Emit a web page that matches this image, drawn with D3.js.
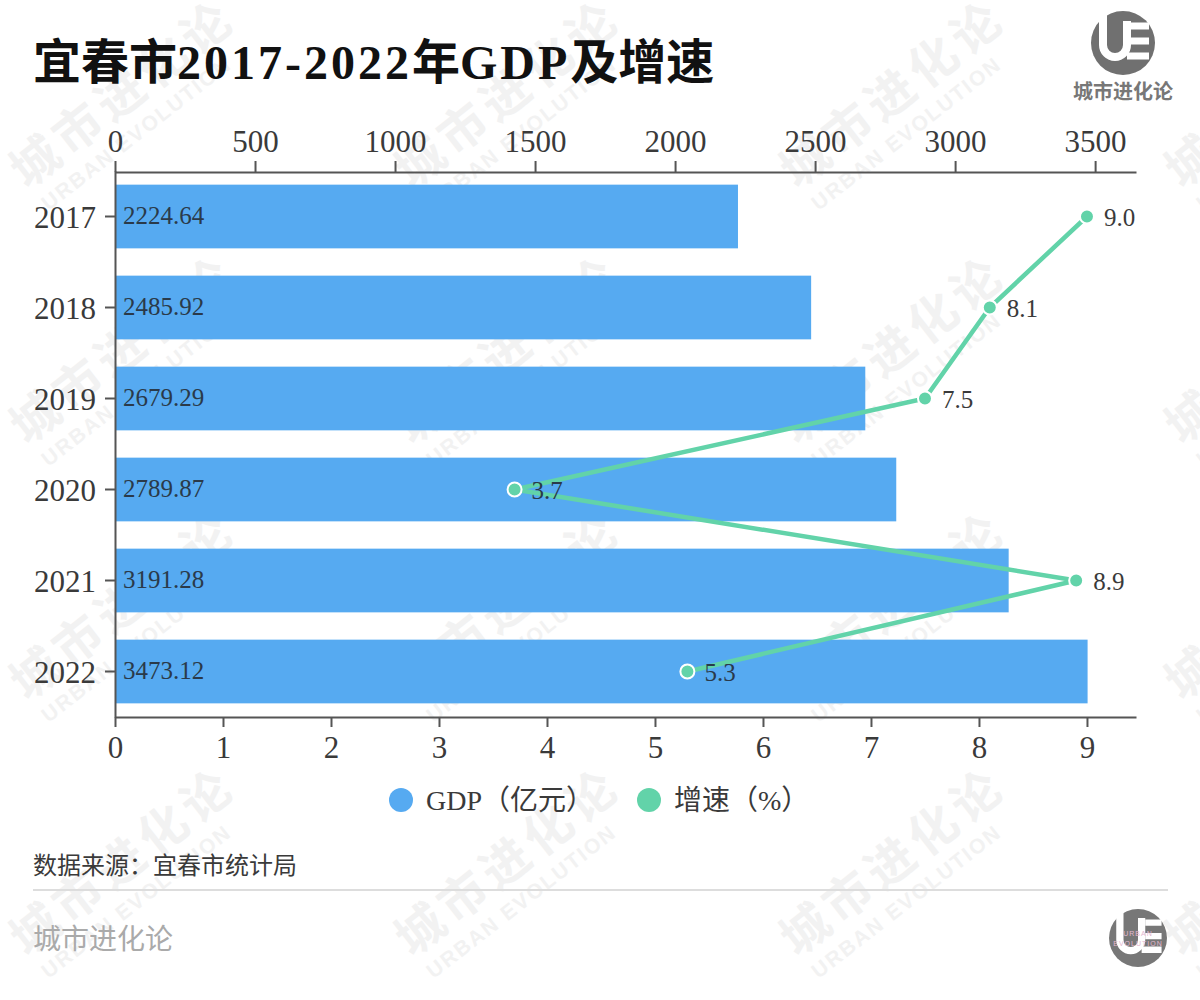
<!DOCTYPE html>
<html>
<head>
<title>宜春市2017-2022年GDP及增速</title>
<script src="https://d3js.org/d3.v7.min.js"></script>
<style>
body { margin: 0; background: #fff; }
svg { display: block; font-family: 'Liberation Serif', 'Noto Sans CJK SC', serif; }
.axis text { font-family: 'Liberation Serif', serif; font-size: 31px; fill: #3a3a3a; }
.axis path, .axis line { stroke: #555; stroke-width: 2; }
</style>
</head>
<body>
<svg id="chart" width="1200" height="1000"></svg>
<script>
  var data = [
    {year: "2017", gdp: 2224.64, rate: 9.0},
    {year: "2018", gdp: 2485.92, rate: 8.1},
    {year: "2019", gdp: 2679.29, rate: 7.5},
    {year: "2020", gdp: 2789.87, rate: 3.7},
    {year: "2021", gdp: 3191.28, rate: 8.9},
    {year: "2022", gdp: 3473.12, rate: 5.3}
  ];
  var blue = "#56aaf1", green = "#62d3a9";
  var cjk = "'Noto Sans CJK SC', sans-serif";

  var svg = d3.select("#chart");
  svg.append("rect").attr("width", 1200).attr("height", 1000).attr("fill", "#fff");

  // watermark grid
  var mark = svg.append("g");
  [0, 1, 2, 3].forEach(function (col) {
    [0, 1, 2, 3].forEach(function (row) {
      var g = mark.append("g")
        .attr("transform", "translate(" + (27 + col * 385) + "," + (190 + row * 256) + ") rotate(-38)");
      g.append("text").attr("font-family", cjk).attr("font-weight", 700)
        .attr("font-size", 48).attr("letter-spacing", 6).attr("fill", "#f2f2f2").text("城市进化论");
      g.append("text").attr("x", 4).attr("y", 30).attr("font-family", "'Liberation Sans', sans-serif").attr("font-weight", 700)
        .attr("font-size", 21).attr("letter-spacing", 2).attr("fill", "#f2f2f2").text("URBAN EVOLUTION");
    });
  });

  var x = d3.scaleLinear().domain([0, 3646]).range([115, 1136]);
  var x2 = d3.scaleLinear().domain([0, 9.454]).range([115, 1136]);
  var y = d3.scaleBand().domain(data.map(function (d) { return d.year; })).range([171, 717])
    .paddingInner(0.3).paddingOuter(0.15);

  var title = svg.append("text").attr("x", 33).attr("y", 79).attr("font-size", 48).attr("font-weight", 700)
    .attr("fill", "#111");
  title.append("tspan").text("宜春市");
  title.append("tspan").attr("letter-spacing", 3).text("2017-2022");
  title.append("tspan").text("年");
  title.append("tspan").attr("letter-spacing", 3).text("GDP");
  title.append("tspan").text("及增速");

  // bars
  svg.selectAll(".bar").data(data).enter().append("rect")
    .attr("class", "bar")
    .attr("x", x(0))
    .attr("y", function (d) { return y(d.year); })
    .attr("width", function (d) { return x(d.gdp) - x(0); })
    .attr("height", y.bandwidth())
    .attr("fill", blue);

  svg.selectAll(".barLabel").data(data).enter().append("text")
    .attr("class", "barLabel")
    .attr("x", 123)
    .attr("y", function (d) { return y(d.year) + y.bandwidth() / 2 + 7; })
    .attr("font-size", 25)
    .attr("fill", "#2a3a4a")
    .text(function (d) { return d.gdp.toFixed(2); });

  // axes
  svg.append("g").attr("class", "axis").attr("transform", "translate(0,172)")
    .call(d3.axisTop(x).tickValues(d3.range(0, 3501, 500)).tickSize(11).tickSizeOuter(0).tickPadding(9).tickFormat(d3.format("d")));
  svg.append("g").attr("class", "axis").attr("transform", "translate(0,717)")
    .call(d3.axisBottom(x2).tickValues(d3.range(0, 10)).tickSize(10).tickSizeOuter(0).tickPadding(9).tickFormat(d3.format("d")));
  var left = svg.append("g").attr("class", "axis").attr("transform", "translate(115,0)")
    .call(d3.axisLeft(y).tickSize(10).tickSizeOuter(0).tickPadding(9));
  left.selectAll("text").attr("dy", "0.38em");

  // growth line
  var line = d3.line()
    .x(function (d) { return x2(d.rate); })
    .y(function (d) { return y(d.year) + y.bandwidth() / 2; });

  svg.append("path").datum(data)
    .attr("fill", "none").attr("stroke", green).attr("stroke-width", 4.5).attr("d", line);

  svg.selectAll(".dot").data(data).enter().append("circle")
    .attr("class", "dot")
    .attr("cx", function (d) { return x2(d.rate); })
    .attr("cy", function (d) { return y(d.year) + y.bandwidth() / 2; })
    .attr("r", 7)
    .attr("fill", green).attr("stroke", "#fff").attr("stroke-width", 2);

  svg.selectAll(".rateLabel").data(data).enter().append("text")
    .attr("class", "rateLabel")
    .attr("x", function (d) { return x2(d.rate) + 17; })
    .attr("y", function (d) { return y(d.year) + y.bandwidth() / 2 + 9; })
    .attr("font-size", 25)
    .attr("fill", function (d) { return d.rate < 6 ? "#2a3a4a" : "#3a3a3a"; })
    .text(function (d) { return d.rate.toFixed(1); });

  // legend
  var legend = [
    {name: "GDP（亿元）", color: blue, cx: 401},
    {name: "增速（%）", color: green, cx: 649}
  ];
  legend.forEach(function (d) {
    svg.append("circle").attr("cx", d.cx).attr("cy", 800).attr("r", 12).attr("fill", d.color);
    svg.append("text").attr("x", d.cx + 25).attr("y", 810).attr("font-size", 28).attr("fill", "#3a3a3a").text(d.name);
  });

  // footer
  svg.append("text").attr("x", 33).attr("y", 874).attr("font-size", 24).attr("fill", "#3a3a3a").text("数据来源：宜春市统计局");
  svg.append("line").attr("x1", 33).attr("x2", 1168).attr("y1", 890).attr("y2", 890).attr("stroke", "#ddd").attr("stroke-width", 2);
  svg.append("text").attr("x", 33).attr("y", 949).attr("font-size", 28).attr("fill", "#aaa").text("城市进化论");

  // logos
  function logo(cx, cy, r, fill) {
    var s = r / 32;
    var g = svg.append("g").attr("transform", "translate(" + cx + "," + cy + ") scale(" + s + ")");
    g.append("circle").attr("r", 32).attr("fill", fill);
    g.append("path").attr("fill", "none").attr("stroke", "#fff").attr("stroke-width", 8)
      .attr("d", "M-20,-30 V2 A12,12 0 0 0 4,2 V-22");
    g.append("path").attr("fill", "none").attr("stroke", "#fff").attr("stroke-width", 7)
      .attr("d", "M26,-17 H8 M26,-2 H8 M26,13 H4");
  }
  logo(1123, 43, 32, "#707070");
  logo(1138, 938, 29, "#777");
  svg.append("text").attr("x", 1123).attr("y", 99).attr("text-anchor", "middle").attr("font-family", cjk)
    .attr("font-weight", 700).attr("font-size", 20).attr("fill", "#777").text("城市进化论");
  svg.append("text").attr("x", 1138).attr("y", 936).attr("text-anchor", "middle").attr("font-family", "'Liberation Sans', sans-serif")
    .attr("font-size", 7).attr("letter-spacing", 1).attr("fill", "#e3b7cf").text("URBAN");
  svg.append("text").attr("x", 1138).attr("y", 946).attr("text-anchor", "middle").attr("font-family", "'Liberation Sans', sans-serif")
    .attr("font-size", 7).attr("letter-spacing", 1).attr("fill", "#e3b7cf").text("EVOLUTION");
</script>
</body>
</html>
